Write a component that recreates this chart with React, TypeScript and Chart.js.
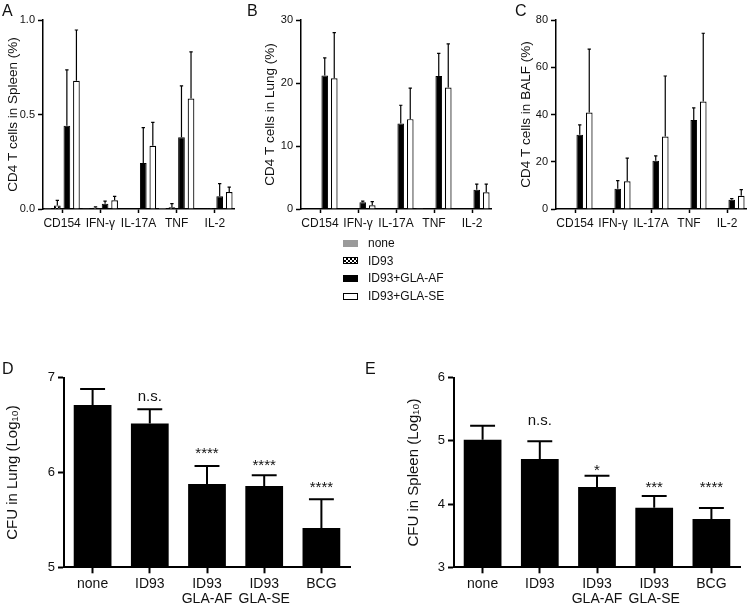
import React, { useEffect, useRef } from "react";
import { Chart, registerables } from "chart.js";

Chart.register(...registerables);

const FONT = "'Liberation Sans', Arial, Helvetica, sans-serif";
const INK = "#111";

// ---------- Panels A–C (CD4 T cell cytokines) ----------
const cytokines = ["CD154", "IFN-γ", "IL-17A", "TNF", "IL-2"];
const groupLabels = ["none", "ID93", "ID93+GLA-AF", "ID93+GLA-SE"];

// A: spleen (%)
const spleenNone = [0.004, 0.002, 0, 0.005, 0];
const spleenID93 = [0.019, 0.007, 0, 0.009, 0.004];
const spleenAF = [0.44, 0.028, 0.243, 0.38, 0.067];
const spleenSE = [0.678, 0.046, 0.334, 0.585, 0.09];
const spleenNoneErr = [0, 0, 0, 0, 0];
const spleenID93Err = [0.027, 0.004, 0, 0.019, 0];
const spleenAFErr = [0.296, 0.014, 0.188, 0.271, 0.067];
const spleenSEErr = [0.269, 0.021, 0.124, 0.246, 0.026];

// B: lung (%)
const lungNone = [0, 0, 0, 0.1, 0];
const lungID93 = [0, 0, 0, 0, 0];
const lungAF = [21.2, 1.06, 13.57, 21.1, 3.06];
const lungSE = [20.76, 0.58, 14.26, 19.28, 2.64];
const lungNoneErr = [0, 0, 0, 0, 0];
const lungID93Err = [0, 0, 0, 0, 0];
const lungAFErr = [2.8, 0.2, 2.9, 3.6, 0.9];
const lungSEErr = [7.24, 0.58, 4.94, 6.92, 1.32];

// C: BALF (%)
const balfNone = [0, 0, 0, 0, 0];
const balfID93 = [0, 0, 0, 0, 0];
const balfAF = [31.4, 8.6, 20.4, 37.7, 3.9];
const balfSE = [40.8, 11.7, 30.7, 45.5, 5.6];
const balfNoneErr = [0, 0, 0, 0, 0];
const balfID93Err = [0, 0, 0, 0, 0];
const balfAFErr = [4.2, 3.4, 2.1, 5.1, 0.5];
const balfSEErr = [26.9, 9.8, 25.6, 28.9, 2.6];

// ---------- Panels D–E (CFU) ----------
const vaccineGroups = ["none", "ID93", ["ID93", "GLA-AF"], ["ID93", "GLA-SE"], "BCG"];

const lungCFU = [6.712, 6.518, 5.879, 5.858, 5.415];
const lungCFUErr = [0.168, 0.148, 0.189, 0.112, 0.302];
const lungSig = ["", "n.s.", "****", "****", "****"];
const lungSigAt = [0, 6.758, 6.148, 6.024, 5.796];

const spleenCFU = [5.019, 4.714, 4.271, 3.944, 3.764];
const spleenCFUErr = [0.221, 0.279, 0.179, 0.184, 0.174];
const spleenSig = ["", "n.s.", "*", "***", "****"];
const spleenSigAt = [0, 5.258, 4.457, 4.184, 4.195];

// ---------- plugins ----------
const errorBarPlugin = {
  id: "errorBars",
  afterDatasetsDraw(chart: any, _args: any, opts: any) {
    const ctx = chart.ctx;
    const yScale = chart.scales.y;
    chart.data.datasets.forEach((ds: any, di: number) => {
      const errs = ds.errors;
      if (!errs) return;
      const meta = chart.getDatasetMeta(di);
      meta.data.forEach((bar: any, i: number) => {
        const v = ds.data[i];
        const e = errs[i];
        if (!e) return;
        const x = bar.x;
        const y0 = yScale.getPixelForValue(v);
        const y1 = yScale.getPixelForValue(v + e);
        const half = (bar.width * (opts.capRatio || 0.5)) / 2;
        ctx.save();
        ctx.strokeStyle = "#000";
        ctx.lineWidth = opts.lineWidth || 1.2;
        ctx.beginPath();
        ctx.moveTo(x, y0);
        ctx.lineTo(x, y1);
        ctx.moveTo(x - half, y1);
        ctx.lineTo(x + half, y1);
        ctx.stroke();
        ctx.restore();
      });
    });
  },
};

const sigPlugin = {
  id: "sigMarks",
  afterDatasetsDraw(chart: any, _args: any, opts: any) {
    const ds = chart.data.datasets[0];
    if (!ds.sigLabels) return;
    const meta = chart.getDatasetMeta(0);
    const y = chart.scales.y;
    const ctx = chart.ctx;
    ctx.save();
    ctx.fillStyle = INK;
    ctx.font = `${opts.size || 15}px ${FONT}`;
    ctx.textAlign = "center";
    ctx.textBaseline = "alphabetic";
    meta.data.forEach((bar: any, i: number) => {
      const t = ds.sigLabels[i];
      if (!t) return;
      ctx.fillText(t, bar.x, y.getPixelForValue(ds.sigAt[i]));
    });
    ctx.restore();
  },
};

function checker(ctx: CanvasRenderingContext2D) {
  const c = document.createElement("canvas");
  c.width = 4;
  c.height = 4;
  const g = c.getContext("2d") as CanvasRenderingContext2D;
  g.fillStyle = "#fff";
  g.fillRect(0, 0, 4, 4);
  g.fillStyle = "#000";
  g.fillRect(0, 0, 2, 2);
  g.fillRect(2, 2, 2, 2);
  return ctx.createPattern(c, "repeat");
}

function axisCommon(lw: number, tickLen: number) {
  return {
    grid: {
      display: true,
      drawOnChartArea: false,
      drawTicks: true,
      tickLength: tickLen,
      tickWidth: lw,
      tickColor: "#000",
      offset: false,
    },
    border: { display: true, color: "#000", width: lw },
  };
}

function cytokineConfig(ctx: any, p: any) {
  const pattern = checker(ctx);
  const common = { categoryPercentage: 1.0, barPercentage: 0.7 };
  return {
    type: "bar",
    data: {
      labels: cytokines,
      datasets: [
        { label: groupLabels[0], data: p.none, errors: p.noneErr, backgroundColor: "#9a9a9a", borderColor: "#9a9a9a", borderWidth: 0, ...common },
        { label: groupLabels[1], data: p.id93, errors: p.id93Err, backgroundColor: pattern, borderColor: "#000", borderWidth: 1, ...common },
        { label: groupLabels[2], data: p.af, errors: p.afErr, backgroundColor: "#000", borderColor: "#000", borderWidth: 1, ...common },
        { label: groupLabels[3], data: p.se, errors: p.seErr, backgroundColor: "#fff", borderColor: "#000", borderWidth: 1.2, ...common },
      ],
    },
    options: {
      responsive: false,
      animation: false,
      layout: { padding: { left: 0, top: 20, right: p.padR, bottom: 0 } },
      plugins: {
        legend: { display: false },
        tooltip: { enabled: false },
        errorBars: { capRatio: 0.5, lineWidth: 1.2 },
      },
      scales: {
        x: {
          type: "category",
          offset: true,
          ...axisCommon(1.5, 4),
          ticks: { color: INK, font: { family: FONT, size: 12 }, padding: 3, maxRotation: 0, autoSkip: false },
          afterFit: (s: any) => { s.height = 26; },
        },
        y: {
          type: "linear",
          min: 0,
          max: p.max,
          ...axisCommon(1.5, 5),
          ticks: { stepSize: p.step, color: INK, font: { family: FONT, size: 11 }, padding: 3, callback: p.fmt },
          title: { display: true, text: p.title, color: INK, font: { family: FONT, size: 13.5 }, padding: { top: p.titlePad, bottom: 0 } },
          afterFit: (s: any) => { s.width = p.yw; },
        },
      },
    },
    plugins: [errorBarPlugin],
  };
}

function cfuConfig(p: any) {
  return {
    type: "bar",
    data: {
      labels: vaccineGroups,
      datasets: [
        {
          label: "CFU",
          data: p.values,
          errors: p.errs,
          sigLabels: p.sig,
          sigAt: p.sigAt,
          backgroundColor: "#000",
          borderColor: "#000",
          borderWidth: 0,
          categoryPercentage: 1.0,
          barPercentage: 0.66,
        },
      ],
    },
    options: {
      responsive: false,
      animation: false,
      layout: { padding: { left: 0, top: 37.7, right: 10, bottom: 0 } },
      plugins: {
        legend: { display: false },
        tooltip: { enabled: false },
        errorBars: { capRatio: 0.66, lineWidth: 2 },
        sigMarks: { size: 15 },
      },
      scales: {
        x: {
          type: "category",
          offset: true,
          ...axisCommon(2, 6),
          ticks: { color: INK, font: { family: FONT, size: 14, lineHeight: 1.07 }, padding: 3, maxRotation: 0, autoSkip: false },
          afterFit: (s: any) => { s.height = 38.7; },
        },
        y: {
          type: "linear",
          min: p.min,
          max: p.max,
          ...axisCommon(2, 6),
          ticks: { stepSize: 1, color: INK, font: { family: FONT, size: 13 }, padding: 3 },
          title: { display: true, text: p.title, color: INK, font: { family: FONT, size: 15 }, padding: { top: p.titlePad, bottom: 0 } },
          afterFit: (s: any) => { s.width = p.yw; },
        },
      },
    },
    plugins: [errorBarPlugin, sigPlugin],
  };
}

function ChartCanvas({ left, top, width, height, build }: any) {
  const ref = useRef<HTMLCanvasElement | null>(null);
  useEffect(() => {
    const canvas = ref.current as HTMLCanvasElement;
    const chart = new Chart(canvas, build(canvas.getContext("2d")) as any);
    return () => chart.destroy();
  }, []);
  return (
    <canvas
      ref={ref}
      width={width}
      height={height}
      style={{ position: "absolute", left, top, width, height }}
    />
  );
}

const letterStyle = (left: number, top: number): any => ({
  position: "absolute",
  left,
  top,
  fontFamily: FONT,
  fontSize: 16,
  lineHeight: "16px",
  color: INK,
});

const swatchStyles: any[] = [
  { background: "#9a9a9a" },
  {
    border: "1.5px solid #000",
    backgroundColor: "#fff",
    backgroundImage: "repeating-conic-gradient(#000 0 25%, #fff 0 50%)",
    backgroundSize: "4px 4px",
  },
  { background: "#000" },
  { border: "1.5px solid #000", background: "#fff" },
];
const legendRowCenters = [243.3, 260.7, 278.3, 296];

export default function App() {
  return (
    <div style={{ position: "absolute", left: 0, top: 0, width: 750, height: 606, background: "#fff", overflow: "hidden" }}>
      <ChartCanvas
        left={0}
        top={0}
        width={240}
        height={235}
        build={(ctx: any) =>
          cytokineConfig(ctx, {
            none: spleenNone, id93: spleenID93, af: spleenAF, se: spleenSE,
            noneErr: spleenNoneErr, id93Err: spleenID93Err, afErr: spleenAFErr, seErr: spleenSEErr,
            max: 1, step: 0.5, fmt: (v: any) => Number(v).toFixed(1),
            title: "CD4 T cells in Spleen (%)", titlePad: 5, yw: 43, padR: 6,
          })
        }
      />
      <ChartCanvas
        left={250}
        top={0}
        width={245}
        height={235}
        build={(ctx: any) =>
          cytokineConfig(ctx, {
            none: lungNone, id93: lungID93, af: lungAF, se: lungSE,
            noneErr: lungNoneErr, id93Err: lungID93Err, afErr: lungAFErr, seErr: lungSEErr,
            max: 30, step: 10, fmt: (v: any) => String(v),
            title: "CD4 T cells in Lung (%)", titlePad: 12, yw: 51, padR: 4,
          })
        }
      />
      <ChartCanvas
        left={505}
        top={0}
        width={245}
        height={235}
        build={(ctx: any) =>
          cytokineConfig(ctx, {
            none: balfNone, id93: balfID93, af: balfAF, se: balfSE,
            noneErr: balfNoneErr, id93Err: balfID93Err, afErr: balfAFErr, seErr: balfSEErr,
            max: 80, step: 20, fmt: (v: any) => String(v),
            title: "CD4 T cells in BALF (%)", titlePad: 13, yw: 51, padR: 4,
          })
        }
      />
      <ChartCanvas
        left={0}
        top={340}
        width={360}
        height={266}
        build={() =>
          cfuConfig({
            values: lungCFU, errs: lungCFUErr, sig: lungSig, sigAt: lungSigAt,
            min: 5, max: 7, title: "CFU in Lung (Log₁₀)", titlePad: 3.5, yw: 64,
          })
        }
      />
      <ChartCanvas
        left={375}
        top={340}
        width={375}
        height={266}
        build={() =>
          cfuConfig({
            values: spleenCFU, errs: spleenCFUErr, sig: spleenSig, sigAt: spleenSigAt,
            min: 3, max: 6, title: "CFU in Spleen (Log₁₀)", titlePad: 30, yw: 79,
          })
        }
      />

      <div style={letterStyle(2, 3)}>A</div>
      <div style={letterStyle(247, 3)}>B</div>
      <div style={letterStyle(515, 3)}>C</div>
      <div style={letterStyle(2, 361)}>D</div>
      <div style={letterStyle(365, 361)}>E</div>

      {groupLabels.map((g, i) => (
        <div
          key={g}
          style={{
            position: "absolute",
            left: 343,
            top: legendRowCenters[i] - 7,
            height: 14,
            display: "flex",
            alignItems: "center",
            fontFamily: FONT,
            fontSize: 12,
            color: INK,
            whiteSpace: "nowrap",
          }}
        >
          <span style={{ display: "inline-block", width: 15, height: 7, boxSizing: "border-box", ...swatchStyles[i] }} />
          <span style={{ marginLeft: 10 }}>{g}</span>
        </div>
      ))}
    </div>
  );
}
